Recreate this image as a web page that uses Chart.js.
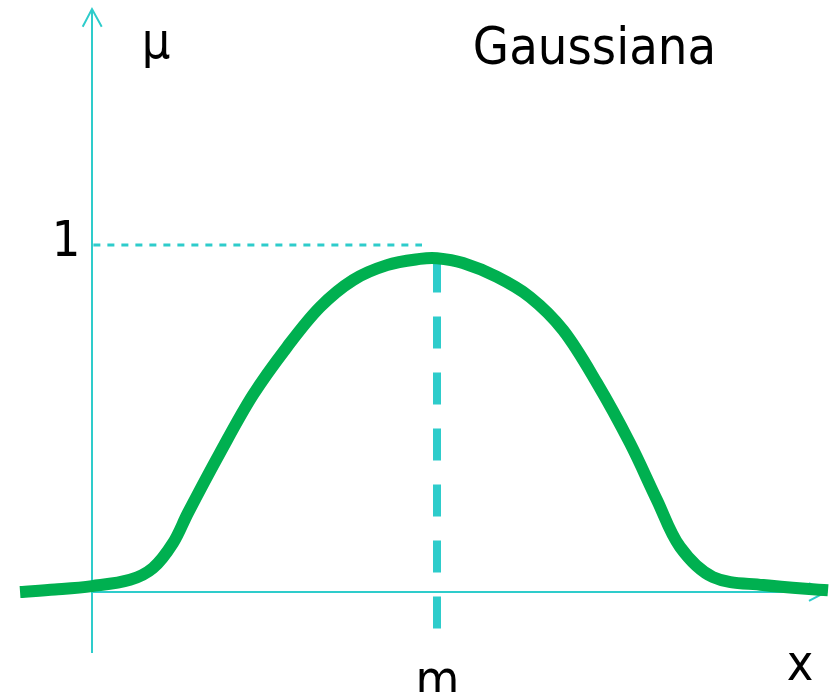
<!DOCTYPE html>
<html>
<head>
<meta charset="utf-8">
<script src="https://cdn.jsdelivr.net/npm/chart.js@4/dist/chart.umd.min.js"></script>
<style>
  html, body { margin: 0; padding: 0; background: #ffffff; }
  #wrap { width: 833px; height: 692px; }
</style>
</head>
<body>
<div id="wrap"><canvas id="c" width="833" height="692"></canvas></div>
<script>
// ---- data (x: position along the axis, origin at the μ axis, m = 5; y: membership μ) ----
const curveX = [-1.043, -0.536, 0, 0.551, 0.884, 1.174, 1.391, 1.855, 2.333, 2.826, 3.304, 3.783, 4.275, 4.754, 5.0, 5.377, 5.870, 6.348, 6.826, 7.319, 7.797, 8.188, 8.522, 9.0, 9.725, 10.667];
const curveY = [0.0, 0.007, 0.017, 0.035, 0.069, 0.141, 0.228, 0.401, 0.568, 0.706, 0.821, 0.899, 0.942, 0.960, 0.962, 0.948, 0.908, 0.850, 0.755, 0.602, 0.429, 0.265, 0.130, 0.043, 0.020, 0.005];

const mValue = 5;          // centre m of the gaussian
const muOne = 1;           // μ = 1 reference level
const xAxisEnd = 10.638;
const yAxisBottom = -0.176;
const yAxisTop = 1.680;
const vDashTop = 0.955;
const vDashBottom = -0.106;

const labelText = ['μ', 'Gaussiana', '1', 'm', 'x'];
const labelX    = [0.928, 7.283, -0.377, 5.007, 10.261];
const labelY    = [1.5390, 1.5216, 0.968, -0.2997, -0.2536];

// ---- build datasets ----
const pts = (xs, ys) => xs.map((x, i) => ({ x: x, y: ys[i] }));
const cyan = '#2ecccb';
const green = '#00b050';
const labelSize = [50, 52, 50, 50, 50];

const datasets = [
  { // y axis
    data: [{ x: 0, y: yAxisBottom }, { x: 0, y: yAxisTop }],
    borderColor: cyan, borderWidth: 2, pointRadius: 0, order: 5
  },
  { // y arrow head
    data: [{ x: -0.135, y: 1.629 }, { x: 0, y: yAxisTop }, { x: 0.1406, y: 1.629 }],
    borderColor: cyan, borderWidth: 2, pointRadius: 0, order: 5, borderJoinStyle: 'miter'
  },
  { // x axis
    data: [{ x: 0, y: 0 }, { x: xAxisEnd, y: 0 }],
    borderColor: cyan, borderWidth: 2, pointRadius: 0, order: 5
  },
  { // x arrow head
    data: [{ x: 10.391, y: 0.0259 }, { x: xAxisEnd, y: 0 }, { x: 10.391, y: -0.0259 }],
    borderColor: cyan, borderWidth: 2, pointRadius: 0, order: 5, borderJoinStyle: 'miter'
  },
  { // μ = 1 dashed reference
    data: [{ x: 0.02, y: muOne }, { x: 4.783, y: muOne }],
    borderColor: cyan, borderWidth: 3, borderDash: [7, 7], pointRadius: 0, order: 4
  },
  { // x = m dashed reference
    data: [{ x: mValue, y: vDashTop }, { x: mValue, y: vDashBottom }],
    borderColor: cyan, borderWidth: 8, borderDash: [32, 24], pointRadius: 0, order: 3
  },
  { // gaussian curve
    data: pts(curveX, curveY),
    borderColor: green, borderWidth: 12, pointRadius: 0,
    tension: 0.35, borderJoinStyle: 'round', borderCapStyle: 'butt',
    order: 1
  }
];

const labelPlugin = {
  id: 'labels',
  afterDatasetsDraw(chart) {
    const ctx = chart.ctx;
    const xs = chart.scales.x, ys = chart.scales.y;
    ctx.save();
    ctx.fillStyle = '#000000';
    ctx.textAlign = 'center';
    ctx.textBaseline = 'alphabetic';
    labelText.forEach((t, i) => {
      ctx.font = labelSize[i] + 'px "DejaVu Sans Condensed", "DejaVu Sans", sans-serif';
      ctx.fillText(t, xs.getPixelForValue(labelX[i]), ys.getPixelForValue(labelY[i]));
    });
    ctx.restore();
  }
};

new Chart(document.getElementById('c'), {
  type: 'line',
  data: { datasets: datasets },
  options: {
    responsive: false,
    animation: false,
    events: [],
    layout: { padding: 0 },
    plugins: { legend: { display: false }, tooltip: { enabled: false } },
    elements: { line: { fill: false } },
    scales: {
      x: { type: 'linear', min: -92 / 69, max: (833 - 92) / 69, display: false },
      y: { type: 'linear', min: (592 - 692) / 347, max: 592 / 347, display: false }
    }
  },
  plugins: [labelPlugin]
});
</script>
</body>
</html>
